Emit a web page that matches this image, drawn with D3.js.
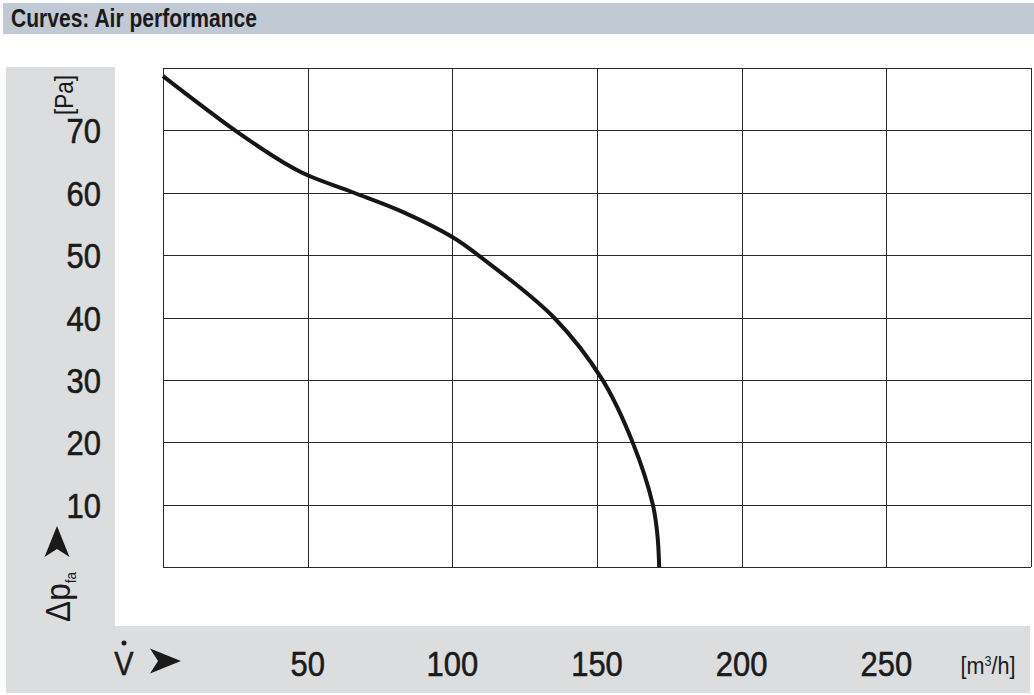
<!DOCTYPE html>
<html>
<head>
<meta charset="utf-8">
<script src="https://cdn.jsdelivr.net/npm/d3@7"></script>
<style>
  body { margin: 0; background: #fff; }
  svg text { font-family: "Liberation Sans", Arial, sans-serif; fill: #1a1a1a; }
</style>
</head>
<body>
<div id="chart"></div>
<script>
// air performance curve (mostly where it crosses the grid)
var flow     = [0, 24.9, 41.5, 50.0, 66.0, 83.0, 100.0, 108.9, 135.1, 151.9, 162.3, 169.3, 170.9, 171.5];
var pressure = [78.7, 70.0, 64.9, 62.8, 60.0, 56.9, 52.9, 50.0, 40.0, 30.0, 20.0, 10.0, 5.0, 0];
var xTicks = [50, 100, 150, 200, 250];
var yTicks = [10, 20, 30, 40, 50, 60, 70];
var xGrid = [0, 50, 100, 150, 200, 250, 300];
var yGrid = [0, 10, 20, 30, 40, 50, 60, 70, 80];

var W = 1034, H = 695;
var margin = {left: 163, right: 3, top: 68, bottom: 128};
var squeeze = 0.86; // the sheet uses a condensed face

var svg = d3.select("#chart").append("svg")
    .attr("width", W)
    .attr("height", H);

// header bar
svg.append("rect").attr("x", 3).attr("y", 3).attr("width", W - 3).attr("height", 31).attr("fill", "#c1c9d5");
svg.append("text").attr("transform", "translate(11,27) scale(0.81,1)")
    .style("font-weight", "bold").style("font-size", "26px")
    .text("Curves: Air performance");

// grey L-shaped panel behind axes
var panel = "#dcdddf";
svg.append("rect").attr("x", 6).attr("y", 67).attr("width", 109).attr("height", 626).attr("fill", panel);
svg.append("rect").attr("x", 6).attr("y", 626).attr("width", 1024).attr("height", 67).attr("fill", panel);

var x = d3.scaleLinear().domain([0, 300]).range([margin.left, W - margin.right]);
var y = d3.scaleLinear().domain([0, 80]).range([H - margin.bottom, margin.top]);

// grid
var g = svg.append("g");
g.selectAll(".vx").data(xGrid).enter().append("line")
    .attr("x1", function(d) { return Math.round(x(d)) + 0.5; })
    .attr("x2", function(d) { return Math.round(x(d)) + 0.5; })
    .attr("y1", y(0)).attr("y2", y(80))
    .attr("stroke", "#2a2a2a").attr("stroke-width", 1);
g.selectAll(".hy").data(yGrid).enter().append("line")
    .attr("y1", function(d) { return Math.round(y(d)) + 0.5; })
    .attr("y2", function(d) { return Math.round(y(d)) + 0.5; })
    .attr("x1", x(0)).attr("x2", x(300))
    .attr("stroke", "#2a2a2a").attr("stroke-width", 1);

// curve
var pts = flow.map(function(f, i) { return [f, pressure[i]]; });
var line = d3.line()
    .x(function(d) { return x(d[0]); })
    .y(function(d) { return y(d[1]); })
    .curve(d3.curveCatmullRom.alpha(0.5));
svg.append("path").datum(pts)
    .attr("d", line)
    .attr("fill", "none")
    .attr("stroke", "#161616")
    .attr("stroke-width", 4);

// y tick labels
svg.selectAll(".yt").data(yTicks).enter().append("text")
    .attr("transform", function(d) { return "translate(101," + (y(d) + 13) + ") scale(" + squeeze + ",1)"; })
    .attr("text-anchor", "end")
    .style("font-size", "36px")
    .attr("stroke", "#1a1a1a").attr("stroke-width", 0.6)
    .text(function(d) { return d; });

// x tick labels
svg.selectAll(".xt").data(xTicks).enter().append("text")
    .attr("transform", function(d) { return "translate(" + x(d) + ",676) scale(" + squeeze + ",1)"; })
    .attr("text-anchor", "middle")
    .style("font-size", "36px")
    .attr("stroke", "#1a1a1a").attr("stroke-width", 0.6)
    .text(function(d) { return d; });

// units
svg.append("text").attr("transform", "translate(988,674) scale(0.9,1)")
    .attr("text-anchor", "middle").style("font-size", "24px")
    .html("[m<tspan dy='-8' font-size='14px'>3</tspan><tspan dy='8'>/h]</tspan>");
svg.append("text")
    .attr("transform", "translate(73,95) rotate(-90) scale(0.9,1)")
    .attr("text-anchor", "middle").style("font-size", "25px")
    .text("[Pa]");

// axis names with arrowheads
svg.append("text").attr("transform", "translate(124,675) scale(0.85,1)")
    .attr("text-anchor", "middle").style("font-size", "34px")
    .attr("stroke", "#1a1a1a").attr("stroke-width", 0.6)
    .text("V");
svg.append("circle").attr("cx", 124).attr("cy", 643).attr("r", 2.5).attr("fill", "#1a1a1a");
var arrow = "M0,0 L-31,-12.5 L-23,0 L-31,12.5 Z";
svg.append("path").attr("d", arrow).attr("transform", "translate(181,661)").attr("fill", "#1a1a1a");
svg.append("path").attr("d", arrow).attr("transform", "translate(57,526) rotate(-90)").attr("fill", "#1a1a1a");

svg.append("text")
    .attr("transform", "translate(70,597) rotate(-90) scale(0.9,1)")
    .attr("text-anchor", "middle").style("font-size", "35px")
    .html("\u0394p<tspan dy='6' font-size='15px'>fa</tspan>");
</script>
</body>
</html>
